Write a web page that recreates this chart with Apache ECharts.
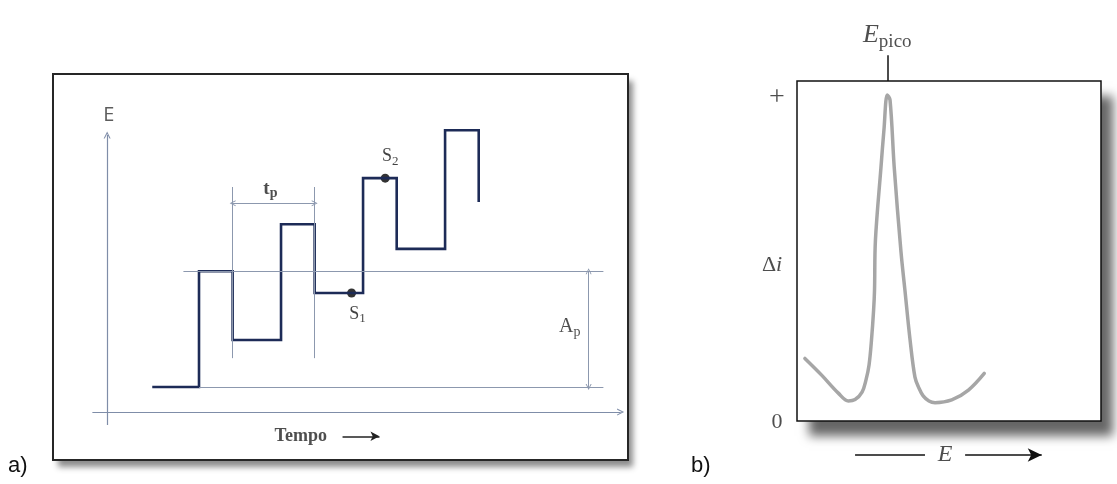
<!DOCTYPE html>
<html>
<head>
<meta charset="utf-8">
<script src="https://cdn.jsdelivr.net/npm/echarts/dist/echarts.min.js"></script>
<style>
  html, body { margin: 0; padding: 0; background: #fff; }
  #chart { width: 1117px; height: 484px; }
</style>
</head>
<body>
<div id="chart"></div>
<script>
// ---- Panel a: differential pulse potential programme ----
// edges of each step (time units, one pulse period = 10)
const stepTimes = [5.5, 11.2, 15.3, 21.2, 25.3, 31.2, 35.3, 41.2, 45.3];
// potential level held after each edge (E units, staircase step = 10)
const stepLevels = [5.4, 30.3, 15.5, 40.4, 25.6, 50.3, 35.1, 60.6, 45.2];
// current sampling instants S1 / S2
const sampleTimes = [29.8, 33.9];
const sampleLevels = [25.6, 50.3];
const sampleIndex = ['1', '2'];
// pulse period marker and pulse amplitude marker
const periodSpan = [15.3, 25.3];
const ampSpan = [5.4, 30.3];

// ---- Panel b: differential pulse voltammogram ----
const curveE = [2.6, 8.1, 13.6, 16.9, 19.1, 21.4, 22.7, 23.7, 24.5, 25.2, 25.5, 25.8, 27.6, 28.6, 29.7,
                30.6, 32.0, 34.2, 35.5, 37.2, 38.8, 40.1, 41.5, 43.4, 45.4, 50.9, 56.4, 61.6];
const curveDi = [18.4, 13.5, 8.2, 5.9, 6.3, 8.5, 12.1, 16.5, 23.8, 32.6, 38.5, 53.2, 74.4, 85.6, 95.9,
                 94.4, 74.4, 49.8, 38.5, 23.8, 12.9, 9.7, 7.4, 5.9, 5.4, 6.2, 9.1, 14.0];
const peakE = 29.7;

// staircase with superimposed pulses
const wave = [[stepTimes[0], stepLevels[0]]];
for (let i = 1; i < stepTimes.length; i++) {
  wave.push([stepTimes[i], stepLevels[i - 1]], [stepTimes[i], stepLevels[i]]);
}
const curve = curveE.map((e, i) => [e, curveDi[i]]);

const chevron = 'path://M0,10 L5,0 L10,10 L8.4,10 L5,3.2 L1.6,10 Z';
const serif = '"Liberation Serif", "DejaVu Serif", serif';
const guideColor = '#8c98ae';

function marker(gridIdx, lines, opts) {
  return {
    type: 'line', xAxisIndex: gridIdx, yAxisIndex: gridIdx, data: [], silent: true, clip: false,
    markLine: Object.assign({
      silent: true, animation: false, label: { show: false }, emphasis: { disabled: true },
      data: lines.map(l => [{ coord: l[0] }, { coord: l[1] }])
    }, opts)
  };
}

function textSeries(gridIdx, items) {
  return {
    type: 'scatter', xAxisIndex: gridIdx, yAxisIndex: gridIdx, symbolSize: 0, silent: true, clip: false,
    data: items.map(it => ({ value: it.at, label: Object.assign({ show: true, position: 'inside' }, it.label) }))
  };
}

const chart = echarts.init(document.getElementById('chart'), null, { renderer: 'canvas' });
chart.setOption({
  animation: false,
  backgroundColor: '#fff',
  grid: [
    // panel a: plotting area and frame
    { left: 53, top: 74, width: 575, height: 386, show: true, backgroundColor: 'transparent',
      borderColor: '#262626', borderWidth: 2 },
    // panel b: plotting area (extends past the frame for the outside annotations)
    { left: 757, top: 20, width: 344, height: 450, show: false },
    // panel b: frame
    { left: 797, top: 81, width: 304, height: 340, show: true, backgroundColor: 'transparent',
      borderColor: '#111', borderWidth: 1.5 }
  ],
  xAxis: [
    { type: 'value', gridIndex: 0, min: -6.6, max: 63.5, show: false },
    { type: 'value', gridIndex: 1, min: -13.158, max: 100, show: false },
    { type: 'value', gridIndex: 2, min: 0, max: 100, show: false }
  ],
  yAxis: [
    { type: 'value', gridIndex: 0, min: -10.3, max: 72.7, show: false },
    { type: 'value', gridIndex: 1, min: -14.41, max: 117.94, show: false },
    { type: 'value', gridIndex: 2, min: 0, max: 100, show: false }
  ],
  graphic: [
    // paper shadows behind both frames
    { type: 'rect', z: -10, shape: { x: 53, y: 74, width: 575, height: 386 },
      style: { fill: '#fff', shadowColor: 'rgba(0,0,0,0.45)', shadowBlur: 6, shadowOffsetX: 5, shadowOffsetY: 7 } },
    { type: 'rect', z: -10, shape: { x: 797, y: 81, width: 304, height: 340 },
      style: { fill: '#fff', shadowColor: 'rgba(0,0,0,0.6)', shadowBlur: 10, shadowOffsetX: 12, shadowOffsetY: 15 } },
    { type: 'text', left: 8, top: 455, style: { text: 'a)', font: '22px "Liberation Sans", sans-serif', fill: '#111' } },
    { type: 'text', left: 691, top: 455, style: { text: 'b)', font: '22px "Liberation Sans", sans-serif', fill: '#111' } }
  ],
  series: [
    // time / potential axes
    marker(0, [[[-1.8, 0], [62.6, 0]], [[0, -2.8], [0, 59.6]]],
      { symbol: ['none', chevron], symbolSize: [7, 7], lineStyle: { color: '#7f8da8', width: 1.2, type: 'solid' } }),
    // guide lines
    marker(0, [
      [[9.3, ampSpan[1]], [60.5, ampSpan[1]]],
      [[stepTimes[1], ampSpan[0]], [60.5, ampSpan[0]]],
      [[periodSpan[0], 11.6], [periodSpan[0], 48.4]],
      [[periodSpan[1], 11.6], [periodSpan[1], 48.4]]
    ], { symbol: ['none', 'none'], lineStyle: { color: guideColor, width: 1, type: 'solid' } }),
    // dimension arrows tp and Ap
    marker(0, [
      [[periodSpan[0], 44.9], [periodSpan[1], 44.9]],
      [[58.7, ampSpan[0]], [58.7, ampSpan[1]]]
    ], { symbol: [chevron, chevron], symbolSize: [6, 6], lineStyle: { color: guideColor, width: 1, type: 'solid' } }),
    // arrow after "Tempo"
    marker(0, [[[28.7, -5.2], [33.2, -5.2]]],
      { symbol: ['none', 'arrow'], symbolSize: [7, 9], lineStyle: { color: '#222', width: 1.5, type: 'solid' } }),
    // potential waveform
    {
      type: 'line', xAxisIndex: 0, yAxisIndex: 0, data: wave, showSymbol: false, silent: true,
      lineStyle: { color: '#1d2b57', width: 2.6, join: 'miter' }
    },
    // sampling points
    {
      type: 'scatter', xAxisIndex: 0, yAxisIndex: 0, symbolSize: 9, silent: true,
      itemStyle: { color: '#000' },
      data: sampleTimes.map((t, i) => ({
        value: [t, sampleLevels[i]],
        label: {
          show: true, position: i === 0 ? 'bottom' : 'top', offset: i === 0 ? [6, 1] : [5, -1],
          formatter: '{a|S}{b|' + sampleIndex[i] + '}',
          rich: {
            a: { fontFamily: serif, fontSize: 18, color: '#111' },
            b: { fontFamily: serif, fontSize: 13, color: '#111', padding: [9, 0, 0, 0] }
          }
        }
      }))
    },
    // panel a texts
    textSeries(0, [
      { at: [0.2, 63.9], label: { formatter: 'E', fontFamily: '"Open Sans", "Liberation Sans", sans-serif', fontSize: 20, color: '#333' } },
      { at: [19.9, 48.0], label: { formatter: '{a|t}{b|p}', rich: {
          a: { fontFamily: serif, fontSize: 19, fontWeight: 'bold', color: '#222' },
          b: { fontFamily: serif, fontSize: 14, fontWeight: 'bold', color: '#222', padding: [10, 0, 0, 0] } } } },
      { at: [56.4, 18.3], label: { formatter: '{a|A}{b|p}', rich: {
          a: { fontFamily: serif, fontSize: 20, color: '#222' },
          b: { fontFamily: serif, fontSize: 14, color: '#222', padding: [10, 0, 0, 0] } } } },
      { at: [23.6, -5.2], label: { formatter: 'Tempo', fontFamily: serif, fontSize: 18, fontWeight: 'bold', color: '#222' } }
    ]),
    // peak marker tick and E arrow in panel b
    marker(1, [[[peakE, 100], [peakE, 107.6]], [[19.1, -10], [42.1, -10]]],
      { symbol: ['none', 'none'], lineStyle: { color: '#111', width: 1.5, type: 'solid' } }),
    marker(1, [[[55.3, -10], [80.5, -10]]],
      { symbol: ['none', 'arrow'], symbolSize: [10, 14], lineStyle: { color: '#111', width: 1.5, type: 'solid' } }),
    // voltammogram
    {
      type: 'line', xAxisIndex: 1, yAxisIndex: 1, data: curve, showSymbol: false, silent: true, smooth: 0.35,
      lineStyle: { color: '#a6a6a6', width: 3.5, cap: 'round', join: 'round' }
    },
    // panel b texts
    textSeries(1, [
      { at: [-6.6, 95.0], label: { formatter: '+', fontFamily: serif, fontSize: 28, color: '#222' } },
      { at: [-6.6, -0.5], label: { formatter: '0', fontFamily: serif, fontSize: 22, color: '#222' } },
      { at: [-8.2, 45.9], label: { formatter: '{a|Δ}{b|i}', rich: {
          a: { fontFamily: serif, fontSize: 22, color: '#222' },
          b: { fontFamily: serif, fontSize: 22, fontStyle: 'italic', color: '#222' } } } },
      { at: [peakE, 113.5], label: { formatter: '{a|E}{b|pico}', rich: {
          a: { fontFamily: serif, fontSize: 26, fontStyle: 'italic', color: '#222' },
          b: { fontFamily: serif, fontSize: 19, color: '#222', padding: [13, 0, 0, 0] } } } },
      { at: [48.7, -10], label: { formatter: 'E', fontFamily: serif, fontSize: 24, fontStyle: 'italic', color: '#222' } }
    ])
  ]
});
</script>
</body>
</html>
